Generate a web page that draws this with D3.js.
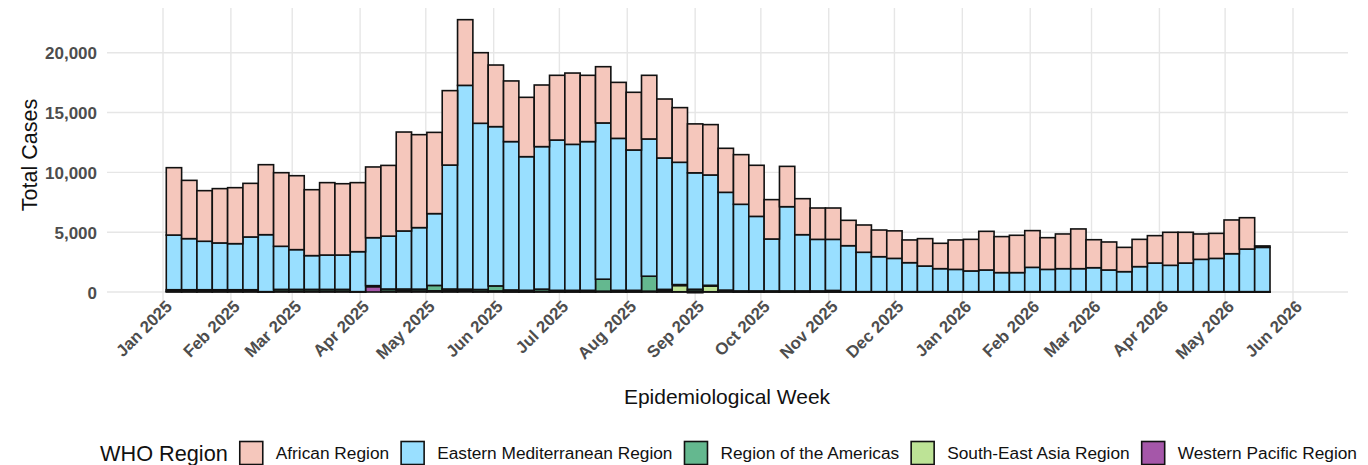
<!DOCTYPE html>
<html><head><meta charset="utf-8">
<script src="https://cdn.jsdelivr.net/npm/d3@7"></script>
<style>body{margin:0;background:#fff}svg{display:block}text{font-family:"Liberation Sans",Arial,sans-serif}</style>
</head><body><svg id="c" width="1368" height="465"></svg>
<script>
const weeks = ["2025-01-06","2025-01-13","2025-01-20","2025-01-27","2025-02-03","2025-02-10","2025-02-17","2025-02-24",
"2025-03-03","2025-03-10","2025-03-17","2025-03-24","2025-03-31","2025-04-07","2025-04-14","2025-04-21","2025-04-28",
"2025-05-05","2025-05-12","2025-05-19","2025-05-26","2025-06-02","2025-06-09","2025-06-16","2025-06-23","2025-06-30",
"2025-07-07","2025-07-14","2025-07-21","2025-07-28","2025-08-04","2025-08-11","2025-08-18","2025-08-25",
"2025-09-01","2025-09-08","2025-09-15","2025-09-22","2025-09-29","2025-10-06","2025-10-13","2025-10-20","2025-10-27",
"2025-11-03","2025-11-10","2025-11-17","2025-11-24","2025-12-01","2025-12-08","2025-12-15","2025-12-22","2025-12-29",
"2026-01-05","2026-01-12","2026-01-19","2026-01-26","2026-02-02","2026-02-09","2026-02-16","2026-02-23",
"2026-03-02","2026-03-09","2026-03-16","2026-03-23","2026-03-30","2026-04-06","2026-04-13","2026-04-20","2026-04-27",
"2026-05-04","2026-05-11","2026-05-18"];

const african = [5630,4870,4230,4540,4680,4480,5850,6150,6180,5510,6050,5960,5770,5910,5910,8270,7770,6790,6220,5490,5900,5150,5070,4960,5150,5410,5960,5540,4700,4680,4820,5320,4930,4570,4090,4210,3680,4150,4270,3290,3370,3010,2620,2620,2120,2280,2230,2300,1900,2290,2120,2460,2640,3230,3010,3120,3070,2650,2900,3320,2340,2340,2030,2280,2290,2760,2570,2120,2090,2820,2620,120];
const easternMed = [4570,4270,4050,3910,3850,4410,4760,3600,3320,2820,2870,2870,3340,4010,4420,4850,5140,6000,10360,17030,13890,13310,12400,11170,11910,12560,12200,12430,13060,12700,11730,11470,10980,10220,9730,9220,8170,7240,6230,4340,7040,4700,4310,4270,3840,3290,2920,2780,2420,2140,1920,1860,1730,1810,1590,1590,2030,1860,1920,1920,2000,1810,1670,2090,2390,2200,2390,2700,2780,3170,3560,3700];
const americas = [120,120,120,120,120,120,20,150,150,150,150,150,20,60,180,150,150,450,150,100,150,420,130,100,180,100,100,100,1000,100,100,1250,100,80,150,60,80,60,60,60,60,60,60,100,20,20,20,20,20,20,20,20,20,20,20,20,20,20,20,20,20,20,20,20,20,20,20,20,20,20,20,20];
const seAsia = [30,30,30,30,30,30,0,30,30,30,30,30,0,20,30,40,40,50,60,20,30,50,20,20,30,20,20,20,40,20,20,40,100,520,80,480,60,20,20,20,20,20,20,20,5,5,5,5,5,5,5,5,5,5,5,5,5,5,5,5,5,5,5,5,5,5,5,5,5,5,5,5];
const westernPac = [40,40,40,40,40,40,10,40,40,40,40,40,10,450,40,60,50,50,40,120,30,40,20,20,30,20,20,20,30,20,20,30,20,20,-60,20,20,10,10,10,10,10,10,10,5,5,5,5,5,5,5,5,5,5,5,5,5,5,5,5,5,5,5,5,5,5,5,5,5,5,5,5];

const regions = ["African Region","Eastern Mediterranean Region","Region of the Americas","South-East Asia Region","Western Pacific Region"];
const colors = ["#F5C7BC","#99DFFF","#64B88F","#BDE396","#A557A9"];
const yTicks = [0,5000,10000,15000,20000];
const monthTicks = ["2025-01-01","2025-02-01","2025-03-01","2025-04-01","2025-05-01","2025-06-01","2025-07-01","2025-08-01",
"2025-09-01","2025-10-01","2025-11-01","2025-12-01","2026-01-01","2026-02-01","2026-03-01","2026-04-01","2026-05-01","2026-06-01"];

const parse = d3.utcParse("%Y-%m-%d");
const svg = d3.select("#c");
svg.append("rect").attr("width",1368).attr("height",465).attr("fill","#fff");

const panel = {left:107, right:1348, top:8, bottom:306};
const x = d3.scaleUtc().domain([parse("2025-01-01"), parse("2026-06-01")]).range([163, 1293]);
const y = d3.scaleLinear().domain([0,20000]).range([292, 52.7]);
const halfWeek = 3.5*24*3600*1000;

const series = [african, easternMed, americas, seAsia, westernPac];
const rows = weeks.map((w,i)=>{ const r={date:parse(w)}; regions.forEach((k,j)=>r[k]=series[j][i]); return r;});
const stackOrder = regions.slice().reverse();
const stacked = d3.stack().keys(stackOrder).offset(d3.stackOffsetDiverging)(rows);

// grid
const g = svg.append("g");
g.selectAll(".hg").data(yTicks).join("line")
 .attr("x1",panel.left).attr("x2",panel.right).attr("y1",d=>y(d)).attr("y2",d=>y(d))
 .attr("stroke","#E6E6E6").attr("stroke-width",1.4);
g.selectAll(".vg").data(monthTicks).join("line")
 .attr("x1",d=>x(parse(d))).attr("x2",d=>x(parse(d))).attr("y1",panel.top).attr("y2",panel.bottom)
 .attr("stroke","#E6E6E6").attr("stroke-width",1.4);

// bars
const colorOf = d3.scaleOrdinal().domain(regions).range(colors);
const layers = svg.append("g").selectAll("g").data(stacked).join("g").attr("fill",d=>colorOf(d.key));
layers.selectAll("rect").data(d=>d).join("rect")
 .attr("x",d=>x(new Date(+d.data.date - halfWeek)))
 .attr("width",d=>x(new Date(+d.data.date + halfWeek)) - x(new Date(+d.data.date - halfWeek)))
 .attr("y",d=>y(Math.max(d[0],d[1])))
 .attr("height",d=>Math.abs(y(d[0])-y(d[1])))
 .attr("stroke","#111").attr("stroke-width",1.6);

// y axis labels
const yAxis = d3.axisLeft(y).tickValues(yTicks).tickFormat(d3.format(",")).tickSize(0).tickPadding(0);
const ya = svg.append("g").attr("transform","translate(97,0)").call(yAxis);
ya.select(".domain").remove();
ya.selectAll("text").attr("font-size",17).attr("font-weight","bold").attr("fill","#4D4D4D").attr("dy","0.36em")
 .style("font-family","'Liberation Sans',Arial,sans-serif");

// x axis labels
const xAxis = d3.axisBottom(x).tickValues(monthTicks.map(parse)).tickFormat(d3.utcFormat("%b %Y")).tickSize(0).tickPadding(0);
const xa = svg.append("g").attr("transform","translate(0,299)").call(xAxis);
xa.select(".domain").remove();
xa.selectAll("text").attr("font-size",16.8).attr("font-weight","bold").attr("fill","#4D4D4D")
 .style("font-family","'Liberation Sans',Arial,sans-serif")
 .attr("text-anchor","end").attr("dy","0.72em").attr("y",0)
 .attr("transform","translate(1,0) rotate(-45)");

// titles
svg.append("text").attr("x",727).attr("y",404).attr("text-anchor","middle").attr("font-size",21).attr("fill","#111").text("Epidemiological Week");
svg.append("text").attr("transform","translate(37,155) rotate(-90)").attr("text-anchor","middle").attr("font-size",21.5).attr("fill","#111").text("Total Cases");

// legend
const lg = svg.append("g");
const ly = 453;
const t0 = lg.append("text").attr("x",100).attr("y",ly).attr("dy","0.36em").attr("font-size",21.7).attr("fill","#111").text("WHO Region");
let cx = 100 + t0.node().getComputedTextLength() + 12;
regions.forEach((r,i)=>{
  lg.append("rect").attr("x",cx).attr("y",ly-11.5).attr("width",23).attr("height",23)
    .attr("fill",colors[i]).attr("stroke","#111").attr("stroke-width",1.6);
  const t = lg.append("text").attr("x",cx+36).attr("y",ly).attr("dy","0.36em").attr("font-size",17.3).attr("fill","#111").text(r);
  cx = cx + 36 + t.node().getComputedTextLength() + 12;
});
</script></body></html>
